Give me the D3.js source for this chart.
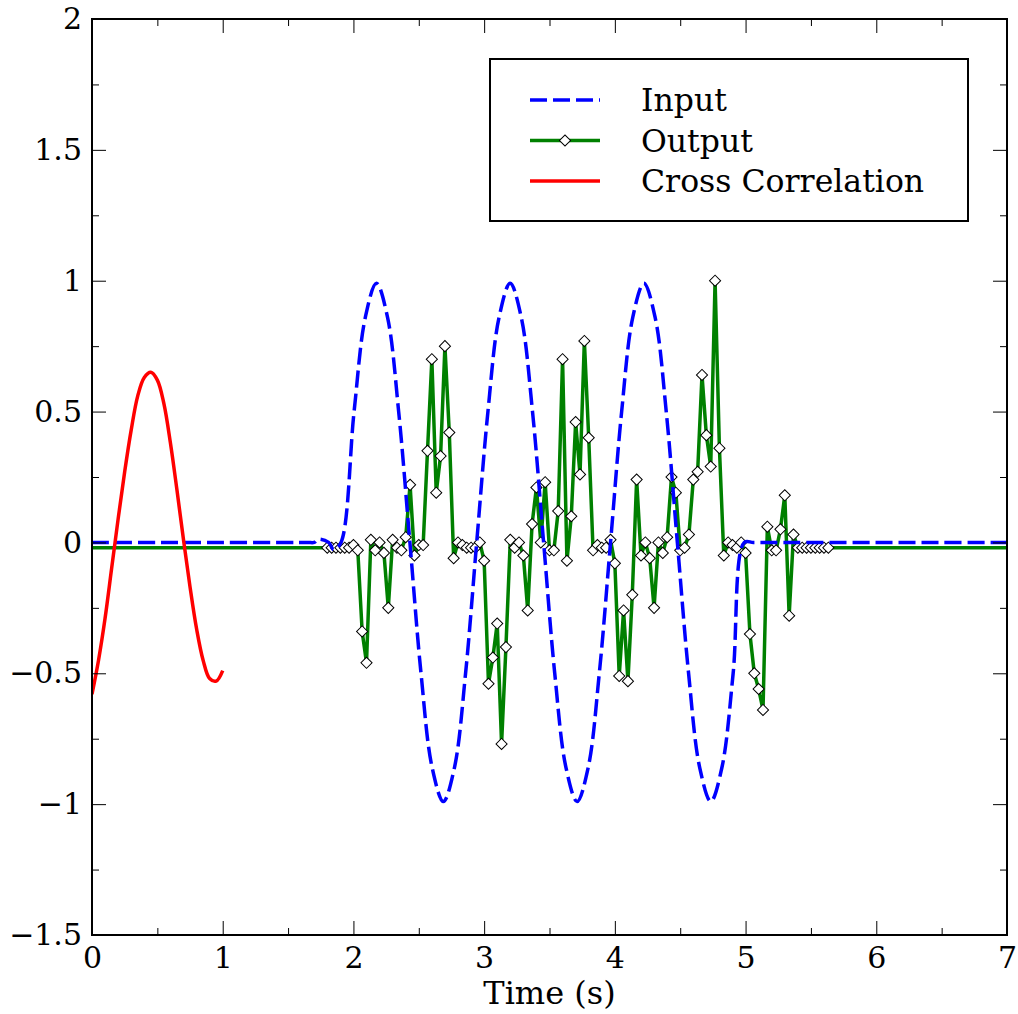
<!DOCTYPE html>
<html>
<head>
<meta charset="utf-8">
<script src="https://cdn.jsdelivr.net/npm/d3@7"></script>
<style>
    body { margin: 0; background: #ffffff; }
    text { font-family: "DejaVu Serif", serif; fill: #000; }
</style>
</head>
<body>
<div id="chart"></div>
<script>
// ---- data ----
const xTicks = [0, 1, 2, 3, 4, 5, 6, 7];
const yTicks = [-1.5, -1, -0.5, 0, 0.5, 1, 1.5, 2];
const seriesNames = ["Input", "Output", "Cross Correlation"];

// input signal (blue dashed)
const inputTime = [0, 0.5, 1.0, 1.5, 1.65, 1.70, 1.73, 1.81, 1.85, 1.905, 2.005, 2.091, 2.176, 2.261, 2.346, 2.432,
    2.517, 2.602, 2.688, 2.773, 2.858, 2.943, 3.029, 3.114, 3.199, 3.284, 3.370, 3.455, 3.540,
    3.626, 3.711, 3.796, 3.881, 3.967, 4.052, 4.137, 4.222, 4.308, 4.393, 4.478, 4.564, 4.649,
    4.734, 4.819, 4.905, 4.990, 5.06, 5.2, 5.5, 6, 6.5, 7];
const inputValue = [0, 0, 0, 0, 0, 0, 0.012, 0, -0.028, 0, 0.5, 0.86, 0.99, 0.86, 0.5, 0,
    -0.5, -0.86, -0.99, -0.86, -0.5, 0, 0.5, 0.86, 0.99, 0.86, 0.5, 0, -0.5,
    -0.86, -0.99, -0.86, -0.5, 0, 0.5, 0.86, 0.99, 0.86, 0.5, 0, -0.5, -0.86,
    -0.99, -0.86, -0.5, 0, 0, 0, 0, 0, 0, 0];

// output samples (green, diamonds), sampled at 30 Hz starting at 1.8 s
const outputStart = 1.8;
const outputRate = 30;
const outputBaseline = -0.02;
const outputValue = [
    -0.02, -0.02, -0.02, -0.02, -0.02, -0.02, -0.01, -0.03,
    -0.34, -0.46, 0.01, -0.03, 0.00, -0.04, -0.25, 0.01,
    -0.02, -0.03, 0.02, 0.22, -0.05, -0.01, -0.01, 0.35,
    0.70, 0.19, 0.33, 0.75, 0.42, -0.06, 0.00, -0.01,
    -0.02, -0.02, -0.02, 0.00, -0.07, -0.54, -0.44, -0.31,
    -0.77, -0.40, 0.01, -0.02, 0.00, -0.05, -0.26, 0.07,
    0.21, 0.00, 0.23, -0.03, -0.03, 0.12, 0.70, -0.07,
    0.10, 0.46, 0.26, 0.77, 0.40, -0.03, -0.01, -0.02,
    -0.02, 0.01, -0.08, -0.51, -0.26, -0.53, -0.20, 0.24,
    -0.05, 0.00, -0.06, -0.25, 0.00, -0.04, 0.02, 0.25,
    0.19, -0.03, -0.02, 0.03, 0.24, 0.27, 0.64, 0.41,
    0.29, 1.00, 0.36, -0.05, 0.00, -0.01, -0.02, 0.00,
    -0.04, -0.35, -0.50, -0.56, -0.64, 0.06, -0.03, -0.03,
    0.05, 0.18, -0.28, 0.03, -0.02, -0.02, -0.02, -0.02,
    -0.02, -0.02, -0.02, -0.02];

// cross correlation (red)
const crossTime = [0, 0.05, 0.1, 0.15, 0.2, 0.25, 0.3, 0.35, 0.4, 0.45, 0.5,
    0.55, 0.6, 0.65, 0.7, 0.75, 0.8, 0.85, 0.9, 0.95, 1.0];
const crossValue = [-0.58, -0.45, -0.29, -0.1, 0.09, 0.27, 0.43, 0.56, 0.63, 0.65, 0.62,
    0.53, 0.38, 0.2, 0.01, -0.17, -0.33, -0.45, -0.52, -0.53, -0.49];

// ---- layout ----
const WIDTH = 1018, HEIGHT = 1014;
var margin = { top: 19, right: 11, bottom: 79, left: 92 },
    width = WIDTH - margin.left - margin.right,
    height = HEIGHT - margin.top - margin.bottom;
const TICK_FONT = 30;
const LABEL_FONT = 32;
const MAJOR = 14, MINOR = 7;
const LW = 3.5;
const DASH = "17,6";

var svg = d3.select("#chart")
    .append("svg")
    .attr("width", WIDTH)
    .attr("height", HEIGHT)
    .append("g")
    .attr("transform", "translate(" + margin.left + "," + margin.top + ")");

var x = d3.scaleLinear().domain([0, 7]).range([0, width]);
var y = d3.scaleLinear().domain([-1.5, 2]).range([height, 0]);

var xMinor = d3.range(0, 7.01, 0.5).filter(d => !xTicks.includes(d));
var yMinor = d3.range(-1.5, 2.01, 0.25).filter(d => !yTicks.includes(d));

svg.append("defs").append("clipPath").attr("id", "clip")
    .append("rect").attr("width", width).attr("height", height);

// ---- series ----
let plot = svg.append("g").attr("clip-path", "url(#clip)");

let outputData = outputValue.map((v, i) => [outputStart + i / outputRate, v]);
let outputLine = [[0, outputBaseline]].concat(outputData, [[7, outputBaseline]]);

let line = d3.line().x(d => x(d[0])).y(d => y(d[1]));
let smooth = d3.line().x(d => x(d[0])).y(d => y(d[1])).curve(d3.curveCatmullRom);

plot.append("path")
    .attr("d", line(outputLine))
    .style("fill", "none")
    .style("stroke", "#008000")
    .style("stroke-width", LW)
    .style("stroke-linejoin", "round");

let diamond = d3.symbol().type(d3.symbolSquare).size(62);
plot.selectAll("marker")
    .data(outputData)
    .enter()
    .append("path")
    .attr("d", diamond)
    .attr("transform", d => "translate(" + x(d[0]) + "," + y(d[1]) + ") rotate(45)")
    .style("fill", "#ffffff")
    .style("stroke", "#000")
    .style("stroke-width", 1);

plot.append("path")
    .attr("d", smooth(inputTime.map((t, i) => [t, inputValue[i]])))
    .style("fill", "none")
    .style("stroke", "#0000ff")
    .style("stroke-width", LW)
    .style("stroke-dasharray", DASH);

plot.append("path")
    .attr("d", smooth(crossTime.map((t, i) => [t, crossValue[i]])))
    .style("fill", "none")
    .style("stroke", "#ff0000")
    .style("stroke-width", LW);

// ---- ticks on all four sides, pointing inward ----
function tickMarks(axis, scale, values, size, transform) {
    svg.append("g")
        .attr("transform", transform)
        .call(axis(scale).tickValues(values).tickSizeInner(size).tickSizeOuter(0).tickFormat(""))
        .call(g => g.select(".domain").remove())
        .selectAll("line").style("stroke", "#000").style("stroke-width", 1);
}
tickMarks(d3.axisBottom, x, xTicks, -MAJOR, "translate(0," + height + ")");
tickMarks(d3.axisBottom, x, xMinor, -MINOR, "translate(0," + height + ")");
tickMarks(d3.axisTop, x, xTicks, -MAJOR, "translate(0,0)");
tickMarks(d3.axisTop, x, xMinor, -MINOR, "translate(0,0)");
tickMarks(d3.axisLeft, y, yTicks, -MAJOR, "translate(0,0)");
tickMarks(d3.axisLeft, y, yMinor, -MINOR, "translate(0,0)");
tickMarks(d3.axisRight, y, yTicks, -MAJOR, "translate(" + width + ",0)");
tickMarks(d3.axisRight, y, yMinor, -MINOR, "translate(" + width + ",0)");

// tick labels
let fmt = d => d3.format("")(d).replace("-", "\u2212");
svg.append("g")
    .attr("transform", "translate(0," + height + ")")
    .call(d3.axisBottom(x).tickValues(xTicks).tickSize(0).tickPadding(12).tickFormat(fmt))
    .call(g => g.select(".domain").remove())
    .selectAll("text")
    .style("font-family", "DejaVu Serif")
    .style("font-size", TICK_FONT + "px");
svg.append("g")
    .call(d3.axisLeft(y).tickValues(yTicks).tickSize(0).tickPadding(10).tickFormat(fmt))
    .call(g => g.select(".domain").remove())
    .selectAll("text")
    .style("font-family", "DejaVu Serif")
    .style("font-size", TICK_FONT + "px");

// frame
svg.append("rect")
    .attr("width", width)
    .attr("height", height)
    .style("fill", "none")
    .style("stroke", "#000")
    .style("stroke-width", 2);

// axis title
svg.append("text")
    .attr("x", width / 2)
    .attr("y", height + 69)
    .style("text-anchor", "middle")
    .style("font-size", LABEL_FONT + "px")
    .text("Time (s)");

// ---- legend ----
let legendData = [
    [seriesNames[0], "#0000ff", DASH, false],
    [seriesNames[1], "#008000", null, true],
    [seriesNames[2], "#ff0000", null, false]
];
let legend = svg.append("g")
    .attr("transform", "translate(" + (490 - margin.left) + "," + (59 - margin.top) + ")");
legend.append("rect")
    .attr("width", 478)
    .attr("height", 162)
    .style("fill", "#ffffff")
    .style("stroke", "#000")
    .style("stroke-width", 2);
let items = legend.selectAll("g.item")
    .data(legendData)
    .enter()
    .append("g")
    .attr("class", "item")
    .attr("transform", (d, i) => "translate(0," + (41 + i * 40.5) + ")");
items.append("line")
    .attr("x1", 40)
    .attr("x2", 110)
    .style("stroke", d => d[1])
    .style("stroke-width", LW)
    .style("stroke-dasharray", d => d[2]);
items.filter(d => d[3])
    .append("path")
    .attr("d", diamond)
    .attr("transform", "translate(75,0) rotate(45)")
    .style("fill", "#ffffff")
    .style("stroke", "#000")
    .style("stroke-width", 1);
items.append("text")
    .attr("x", 151)
    .attr("dy", "0.35em")
    .style("font-size", "31.5px")
    .text(d => d[0]);
</script>
</body>
</html>
